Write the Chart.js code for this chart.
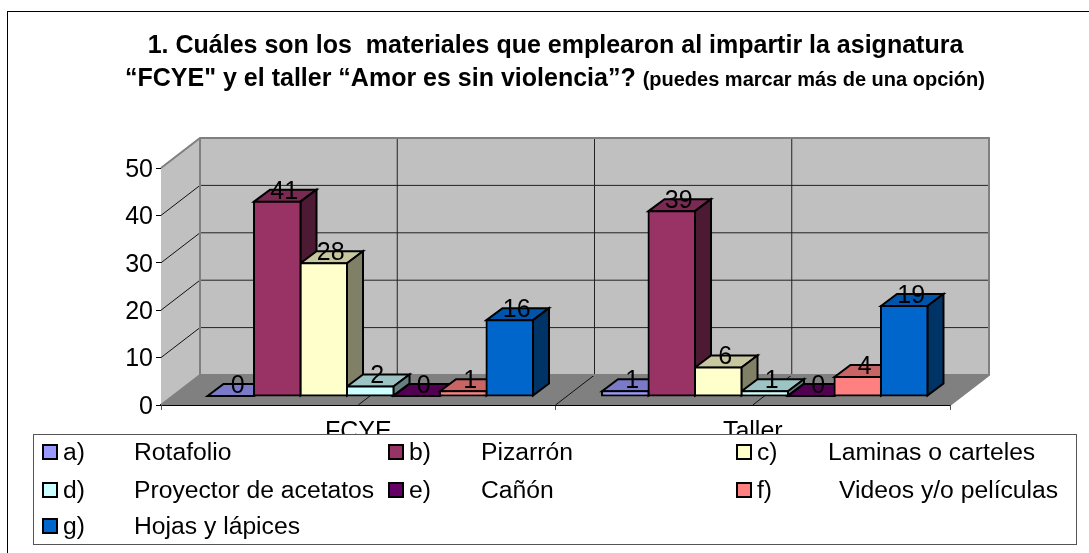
<!DOCTYPE html>
<html>
<head>
<meta charset="utf-8">
<script src="https://cdn.jsdelivr.net/npm/chart.js@4"></script>
<style>
  html, body { margin: 0; padding: 0; background: #fff; }
  body { width: 1089px; height: 553px; position: relative; overflow: hidden; font-family: "Liberation Sans", Arial, sans-serif; color: #000; }
  canvas { position: absolute; left: 0; top: 0; }
  #frame { position: absolute; left: 7px; top: 11px; width: 1200px; height: 700px; border: 1px solid #000; }
  .titleLine { position: absolute; left: 0; white-space: pre; font-weight: bold; font-size: 25px; line-height: 28px; text-align: center; }
  .titleLine small { font-size: 20px; }
  #legend { position: absolute; left: 33px; top: 434px; width: 1042px; height: 109px; border: 1px solid #555; background: #fff; }
  .entry { position: absolute; font-size: 24.7px; line-height: 28px; white-space: pre; }
  .entry i { position: absolute; left: -21px; top: 6px; width: 12px; height: 12px; border: 2px solid #000; }
  .entry span { position: absolute; top: 0; }
</style>
</head>
<body>
<canvas id="myChart" width="1089" height="553"></canvas>
<div id="frame"></div>
<div class="titleLine" style="top:30px;width:1111px">1. Cuáles son los  materiales que emplearon al impartir la asignatura</div>
<div class="titleLine" style="top:63px;width:1110px">“FCYE" y el taller “Amor es sin violencia”? <small>(puedes marcar más de una opción)</small></div>
<div id="legend"></div>
<script>
const categories = ['FCYE', 'Taller'];
const seriesLetters = ['a)', 'b)', 'c)', 'd)', 'e)', 'f)', 'g)'];
const seriesNames = ['Rotafolio', 'Pizarrón', 'Laminas o carteles', 'Proyector de acetatos', 'Cañón', 'Videos y/o películas', 'Hojas y lápices'];
const fcyeValues = [0, 41, 28, 2, 0, 1, 16];
const tallerValues = [1, 39, 6, 1, 0, 4, 19];
const yTicks = [0, 10, 20, 30, 40, 50];

const frontColors = ['#9999FF', '#993366', '#FFFFCC', '#CCFFFF', '#660066', '#FF8080', '#0066CC'];
const topColors = ['#7A7AC8', '#7A2952', '#C8C8A0', '#9CC4C4', '#520052', '#C86464', '#0055AA'];
const sideColors = ['#4D4D80', '#4D1A33', '#808066', '#668080', '#330033', '#804040', '#003366'];

// depth of the box and of one bar, in pixels
const wallDx = 39, wallDy = -30;
const barDx = 16, barDy = -12;
const shiftX = 12, shiftY = -9;

function poly(ctx, pts, fill, stroke, lw) {
    ctx.beginPath();
    pts.forEach((p, i) => i ? ctx.lineTo(p[0], p[1]) : ctx.moveTo(p[0], p[1]));
    ctx.closePath();
    if (fill) { ctx.fillStyle = fill; ctx.fill(); }
    if (stroke) { ctx.strokeStyle = stroke; ctx.lineWidth = lw; ctx.stroke(); }
}

function line(ctx, x1, y1, x2, y2, color, lw) {
    ctx.beginPath();
    ctx.moveTo(x1, y1);
    ctx.lineTo(x2, y2);
    ctx.strokeStyle = color;
    ctx.lineWidth = lw;
    ctx.stroke();
}

const box3d = {
    id: 'box3d',
    beforeDatasetsDraw(chart) {
        const ctx = chart.ctx, a = chart.chartArea, xs = chart.scales.x, ys = chart.scales.y;
        ctx.save();
        // walls and floor
        poly(ctx, [[a.left, a.top], [a.left + wallDx, a.top + wallDy], [a.left + wallDx, a.bottom + wallDy], [a.left, a.bottom]], '#C0C0C0');
        poly(ctx, [[a.left + wallDx, a.top + wallDy], [a.right + wallDx, a.top + wallDy], [a.right + wallDx, a.bottom + wallDy], [a.left + wallDx, a.bottom + wallDy]], '#C0C0C0');
        poly(ctx, [[a.left, a.bottom], [a.left + wallDx, a.bottom + wallDy], [a.right + wallDx, a.bottom + wallDy], [a.right, a.bottom]], '#808080');

        yTicks.slice(1, -1).forEach(v => {
            const y = ys.getPixelForValue(v);
            line(ctx, a.left, y, a.left + wallDx, y + wallDy, '#111', 1);
            line(ctx, a.left + wallDx, y + wallDy, a.right + wallDx, y + wallDy, '#222', 1);
        });
        [0, 0.5, 1].forEach(v => {
            const x = xs.getPixelForValue(v);
            line(ctx, x, a.bottom, x + wallDx, a.bottom + wallDy, '#111', 1);
            line(ctx, x + wallDx, a.bottom + wallDy, x + wallDx, a.top + wallDy, '#222', 1);
        });

        // grey edges of the box
        ctx.beginPath();
        ctx.moveTo(a.left, a.top);
        ctx.lineTo(a.left + wallDx, a.top + wallDy);
        ctx.lineTo(a.right + wallDx, a.top + wallDy);
        ctx.lineTo(a.right + wallDx, a.bottom + wallDy);
        ctx.lineTo(a.right, a.bottom);
        ctx.moveTo(a.left, a.bottom);
        ctx.lineTo(a.left + wallDx, a.bottom + wallDy);
        ctx.lineTo(a.left + wallDx, a.top + wallDy);
        ctx.moveTo(a.left + wallDx, a.bottom + wallDy);
        ctx.lineTo(a.right + wallDx, a.bottom + wallDy);
        ctx.strokeStyle = '#808080';
        ctx.lineWidth = 2;
        ctx.stroke();

        // top and side of every bar, left to right, the fronts come after
        ctx.translate(shiftX, shiftY);
        chart.data.datasets.forEach((ds, i) => {
            chart.getDatasetMeta(i).data.forEach(bar => {
                const l = bar.x - bar.width / 2, r = bar.x + bar.width / 2;
                poly(ctx, [[l, bar.y], [l + barDx, bar.y + barDy], [r + barDx, bar.y + barDy], [r, bar.y]], topColors[i], '#000', 2);
                poly(ctx, [[r, bar.y], [r + barDx, bar.y + barDy], [r + barDx, bar.base + barDy], [r, bar.base]], sideColors[i], '#000', 2);
            });
        });
        ctx.restore();
    },
    beforeDatasetDraw(chart) {
        chart.ctx.save();
        chart.ctx.translate(shiftX, shiftY);
    },
    afterDatasetDraw(chart) {
        chart.ctx.restore();
    },
    afterDatasetsDraw(chart) {
        const ctx = chart.ctx;
        ctx.save();
        ctx.font = '25px "Liberation Sans"';
        ctx.fillStyle = '#000';
        ctx.textAlign = 'center';
        ctx.textBaseline = 'middle';
        chart.data.datasets.forEach((ds, i) => {
            chart.getDatasetMeta(i).data.forEach((bar, j) => {
                ctx.fillText(ds.data[j], bar.x + shiftX + 7, bar.y + shiftY - 10);
            });
        });
        ctx.restore();
    }
};

new Chart(document.getElementById('myChart'), {
    type: 'bar',
    plugins: [box3d],
    data: {
        labels: categories,
        datasets: seriesNames.map((name, i) => ({
            label: seriesLetters[i] + ' ' + name,
            data: [fcyeValues[i], tallerValues[i]],
            backgroundColor: frontColors[i],
            borderColor: '#000',
            borderWidth: 2,
            inflateAmount: 1,
            borderSkipped: false,
            clip: false
        }))
    },
    options: {
        responsive: false,
        animation: false,
        layout: { padding: { top: 168, right: 139, bottom: 0, left: 0 } },
        categoryPercentage: 0.825,
        barPercentage: 1,
        plugins: { legend: { display: false }, title: { display: false }, tooltip: { enabled: false } },
        scales: {
            x: {
                afterFit: s => { s.height = 148; },
                border: { color: '#000', width: 2 },
                grid: { drawOnChartArea: false, color: '#555', tickLength: 5 },
                ticks: { color: '#000', font: { family: 'Liberation Sans', size: 25 }, padding: 7, maxRotation: 0 }
            },
            y: {
                min: 0,
                max: 50,
                afterFit: s => { s.width = 161; },
                afterBuildTicks: s => { s.ticks = yTicks.map(v => ({ value: v })); },
                border: { color: '#000', width: 1 },
                grid: { drawOnChartArea: false, color: '#000', tickLength: 5 },
                ticks: { color: '#000', font: { family: 'Liberation Sans', size: 25 }, padding: 3, labelOffset: 2 }
            }
        }
    }
});

// legend laid out in three columns like the original
const legendBox = document.getElementById('legend');
const columnX = [29, 375, 723];
const nameX = [100, 447, 794];
const rowY = [3, 41, 77];
seriesNames.forEach((name, i) => {
    const col = i % 3, row = Math.floor(i / 3);
    const entry = document.createElement('div');
    entry.className = 'entry';
    entry.style.left = columnX[col] + 'px';
    entry.style.top = rowY[row] + 'px';
    const swatch = document.createElement('i');
    swatch.style.background = frontColors[i];
    const letter = document.createElement('span');
    letter.textContent = seriesLetters[i];
    const text = document.createElement('span');
    text.textContent = name;
    text.style.left = (nameX[col] - columnX[col] + (i === 5 ? 11 : 0)) + 'px';
    entry.append(swatch, letter, text);
    legendBox.appendChild(entry);
});
</script>
</body>
</html>
